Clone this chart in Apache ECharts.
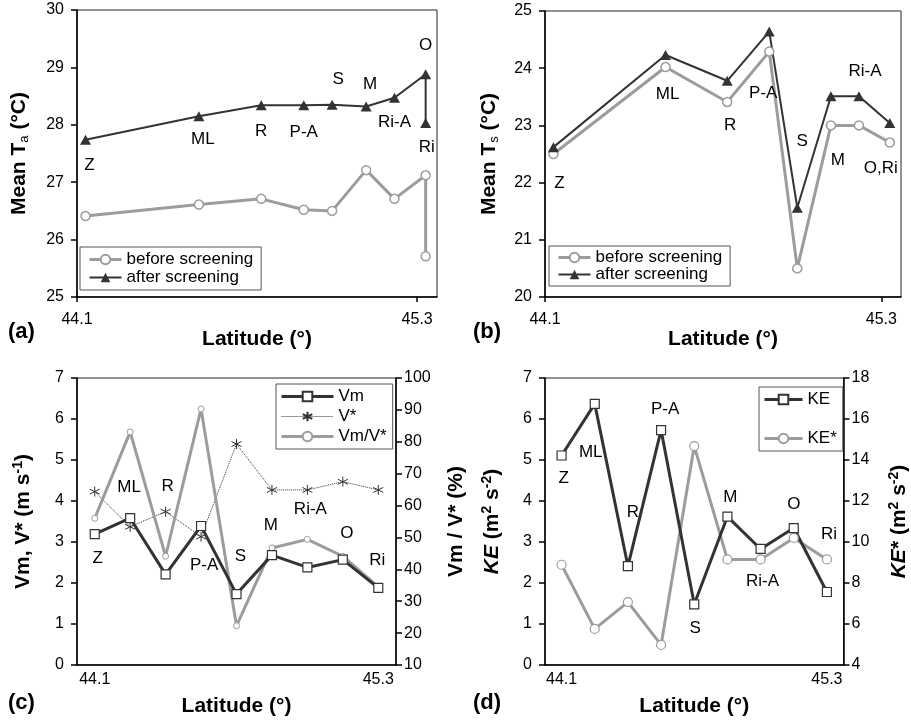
<!DOCTYPE html>
<html>
<head>
<meta charset="utf-8">
<script src="https://cdn.jsdelivr.net/npm/echarts@6/dist/echarts.min.js"></script>
<style>
  html, body { margin: 0; padding: 0; background: #fff; }
  #chart { width: 911px; height: 723px; }
</style>
</head>
<body>
<div id="chart"></div>
<script>
// station order, south to north
var stations = ['Z', 'ML', 'R', 'P-A', 'S', 'M', 'Ri-A', 'O', 'Ri'];
var stationsB = ['Z', 'ML', 'R', 'P-A', 'S', 'M', 'Ri-A', 'O,Ri'];
var latitude = [44.13, 44.53, 44.75, 44.90, 45.00, 45.12, 45.22, 45.33, 45.33];
var latitudeB = [44.13, 44.53, 44.75, 44.90, 45.00, 45.12, 45.22, 45.33];
var latTicks = [44.1, 45.3];

// (a) mean air temperature
var taBefore = [26.41, 26.61, 26.71, 26.52, 26.50, 27.21, 26.71, 27.12, 25.71];
var taAfter = [27.74, 28.15, 28.34, 28.34, 28.35, 28.32, 28.47, 28.88, 28.03];
// (b) mean surface temperature
var tsBefore = [22.50, 24.02, 23.41, 24.29, 20.50, 23.00, 23.00, 22.70];
var tsAfter = [22.62, 24.23, 23.78, 24.64, 21.56, 23.51, 23.51, 23.04];
// (c) wind speeds
var vm = [3.19, 3.58, 2.21, 3.39, 1.73, 2.68, 2.38, 2.57, 1.88];
var vStar = [4.23, 3.37, 3.74, 3.13, 5.39, 4.27, 4.27, 4.47, 4.27];
var vmRatio = [56.0, 83.1, 44.1, 90.3, 22.3, 46.7, 49.4, 44.1, 34.5];
// (d) kinetic energy
var ke = [5.11, 6.37, 2.41, 5.73, 1.48, 3.62, 2.83, 3.34, 1.78];
var keStar = [8.89, 5.76, 7.07, 4.98, 14.68, 9.15, 9.15, 10.20, 9.15];

var FONT = '"Liberation Sans", Arial, Helvetica, sans-serif';
var DARK = '#333';
var GRAY = '#9c9c9c';

// where each station name sits relative to its point (px)
var offA = [[4, 26], [4, 23], [0, 26], [0, 27], [6, -25], [4, -22], [0, 24], [0, -29], [1, 24]];
var offB = [[6, 36], [2, 39], [3, 45], [-6, 62], [5, -66], [7, 64], [6, -25], [-9, 45]];
var offC = [[3, 24], [-1, -31], [2, -88], [3, 39], [4, -38], [-1, -30], [3, -58], [4, -26], [-1, -28]];
var offD = [[2, 23], [-4, 48], [5, -54], [4, -21], [1, 24], [3, -19], [2, 32], [0, -24], [2, -58]];

var richName = {
  b: { fontSize: 21, fontWeight: 'bold', fontFamily: FONT, color: '#000', lineHeight: 24 },
  bi: { fontSize: 21, fontWeight: 'bold', fontStyle: 'italic', fontFamily: FONT, color: '#000', lineHeight: 24 },
  sub: { fontSize: 13, fontFamily: FONT, color: '#000', verticalAlign: 'bottom', lineHeight: 14 },
  sup: { fontSize: 14, fontWeight: 'bold', fontFamily: FONT, color: '#000', verticalAlign: 'top', lineHeight: 14 }
};

function pairs(xs, ys) {
  return ys.map(function(y, i) { return [xs[i], y]; });
}

function labelled(values, names, offs) {
  return values.map(function(v, i) {
    return { name: names[i], value: v, label: { show: true, offset: offs[i] } };
  });
}

var stationLabel = { show: false, position: 'inside', formatter: '{b}', fontSize: 17, color: '#000', fontFamily: FONT };

function latAxis(grid, margin, gap) {
  return {
    type: 'value', gridIndex: grid, min: 44.1, max: 45.37,
    axisLine: { onZero: false, lineStyle: { color: '#000', width: 1.5 } },
    axisTick: { show: true, length: 5, customValues: latTicks, lineStyle: { color: '#000', width: 1.5 } },
    axisLabel: { customValues: latTicks, formatter: function(v) { return v.toFixed(1); }, margin: margin, fontSize: 16, color: '#000', fontFamily: FONT },
    splitLine: { show: false },
    name: 'Latitude (°)', nameLocation: 'middle', nameGap: gap,
    nameTextStyle: { fontSize: 21, fontWeight: 'bold', color: '#000', fontFamily: FONT }
  };
}

function catAxis(grid) {
  var last = stations.length - 1;
  return {
    type: 'category', gridIndex: grid, data: stations, boundaryGap: true,
    axisLine: { onZero: false, lineStyle: { color: '#000', width: 1.5 } },
    axisTick: { show: false },
    axisLabel: { interval: 0, margin: 7, fontSize: 16, color: '#000', fontFamily: FONT,
      formatter: function(v, i) { return i === 0 ? latTicks[0].toFixed(1) : i === last ? latTicks[1].toFixed(1) : ''; } },
    name: 'Latitude (°)', nameLocation: 'middle', nameGap: 31,
    nameTextStyle: { fontSize: 21, fontWeight: 'bold', color: '#000', fontFamily: FONT }
  };
}

function valAxis(grid, min, max, step, name, gap, pos, margin) {
  return {
    type: 'value', gridIndex: grid, min: min, max: max, interval: step, position: pos || 'left',
    axisLine: { show: true, onZero: false, lineStyle: { color: '#000', width: 1.5 } },
    axisTick: { show: true, length: 6, lineStyle: { color: '#000', width: 1.5 } },
    axisLabel: { margin: margin || 13, fontSize: 16, color: '#000', fontFamily: FONT },
    splitLine: { show: false },
    name: name, nameLocation: 'middle', nameGap: gap, nameRotate: 90,
    nameTextStyle: { rich: richName }
  };
}

// legend entries: [name, line width]
function legendBox(left, top, entries, itemWidth, itemGap, pad) {
  return {
    orient: 'vertical', left: left, top: top,
    data: entries.map(function(e) { return { name: e[0], lineStyle: { width: e[1] } }; }),
    itemWidth: itemWidth, itemHeight: 12, itemGap: itemGap, padding: pad,
    borderColor: '#555', borderWidth: 1, backgroundColor: '#fff', borderRadius: 0,
    textStyle: { fontSize: 17, color: '#000', fontFamily: FONT },
    selectedMode: false
  };
}

var asterisk = 'path://M5,0L5,10M0.67,2.5L9.33,7.5M0.67,7.5L9.33,2.5';

var chart = echarts.init(document.getElementById('chart'), null, { renderer: 'canvas' });
chart.setOption({
  animation: false,
  backgroundColor: '#fff',
  textStyle: { fontFamily: FONT },
  grid: [
    { left: 77, top: 10, width: 360, height: 287, show: true, borderColor: '#222', borderWidth: 1 },
    { left: 545, top: 11, width: 356, height: 286, show: true, borderColor: '#222', borderWidth: 1 },
    { left: 77, top: 378, width: 319, height: 287, show: true, borderColor: '#222', borderWidth: 1 },
    { left: 545, top: 378, width: 303, height: 287, show: true, borderColor: '#222', borderWidth: 1 }
  ],
  xAxis: [latAxis(0, 15, 30), latAxis(1, 15, 30), catAxis(2), catAxis(3)],
  yAxis: [
    valAxis(0, 25, 30, 1, '{b|Mean T}{sub|a}{b| (°C)}', 46),
    valAxis(1, 20, 25, 1, '{b|Mean T}{sub|s}{b| (°C)}', 44),
    valAxis(2, 0, 7, 1, '{b|Vm, V* (m s}{sup|-1}{b|)}', 42),
    valAxis(2, 10, 100, 10, '{b|Vm / V* (%)}', 48, 'right', 8),
    valAxis(3, 0, 7, 1, '{bi|KE}{b| (m}{sup|2}{b| s}{sup|-2}{b|)}', 41),
    valAxis(3, 4, 18, 2, '{bi|KE}{b|* (m}{sup|2}{b| s}{sup|-2}{b|)}', 44, 'right', 8)
  ],
  legend: [
    legendBox(80, 247, [['before screening', 3], ['after screening', 2]], 32, 1, [4, 8, 4, 8]),
    legendBox(549, 246, [['before screening', 3], ['after screening', 2]], 32, 0, [3, 8, 3, 8]),
    legendBox(276, 384, [['Vm', 3], ['V*', 1], ['Vm/V*', 3]], 52, 3, [4, 6, 4, 4]),
    legendBox(759, 387, [['KE', 3], ['KE*', 3]], 38, 22, [4, 6, 4, 4])
  ],
  graphic: [
    { type: 'text', left: 8, top: 321, style: { text: '(a)', font: 'bold 22px ' + FONT, fill: '#000' } },
    { type: 'text', left: 473, top: 321, style: { text: '(b)', font: 'bold 22px ' + FONT, fill: '#000' } },
    { type: 'text', left: 8, top: 692, style: { text: '(c)', font: 'bold 22px ' + FONT, fill: '#000' } },
    { type: 'text', left: 473, top: 692, style: { text: '(d)', font: 'bold 22px ' + FONT, fill: '#000' } }
  ],
  series: [
    { name: 'before screening', type: 'line', xAxisIndex: 0, yAxisIndex: 0, data: pairs(latitude, taBefore),
      symbol: 'circle', symbolSize: 9, lineStyle: { color: GRAY, width: 3 },
      itemStyle: { color: '#fff', borderColor: GRAY, borderWidth: 1.5 } },
    { name: 'after screening', type: 'line', xAxisIndex: 0, yAxisIndex: 0,
      data: labelled(pairs(latitude, taAfter), stations, offA), label: stationLabel,
      symbol: 'triangle', symbolSize: [11, 10], lineStyle: { color: DARK, width: 2 }, itemStyle: { color: DARK } },

    { name: 'before screening', type: 'line', xAxisIndex: 1, yAxisIndex: 1, data: pairs(latitudeB, tsBefore),
      symbol: 'circle', symbolSize: 9, lineStyle: { color: GRAY, width: 3 },
      itemStyle: { color: '#fff', borderColor: GRAY, borderWidth: 1.5 } },
    { name: 'after screening', type: 'line', xAxisIndex: 1, yAxisIndex: 1,
      data: labelled(pairs(latitudeB, tsAfter), stationsB, offB), label: stationLabel,
      symbol: 'triangle', symbolSize: [11, 10], lineStyle: { color: DARK, width: 2 }, itemStyle: { color: DARK } },

    { name: 'V*', type: 'line', xAxisIndex: 2, yAxisIndex: 2, data: vStar,
      symbol: asterisk, symbolSize: 10, lineStyle: { color: DARK, width: 1, type: 'dotted' },
      itemStyle: { color: DARK, borderColor: DARK, borderWidth: 1 } },
    { name: 'Vm/V*', type: 'line', xAxisIndex: 2, yAxisIndex: 3, data: vmRatio,
      symbol: 'circle', symbolSize: 6, lineStyle: { color: GRAY, width: 3 },
      itemStyle: { color: '#fff', borderColor: GRAY, borderWidth: 1 } },
    { name: 'Vm', type: 'line', xAxisIndex: 2, yAxisIndex: 2,
      data: labelled(vm, stations, offC), label: stationLabel,
      symbol: 'rect', symbolSize: 9, lineStyle: { color: DARK, width: 3 },
      itemStyle: { color: '#fff', borderColor: DARK, borderWidth: 1.2 } },

    { name: 'KE*', type: 'line', xAxisIndex: 3, yAxisIndex: 5, data: keStar,
      symbol: 'circle', symbolSize: 9, lineStyle: { color: GRAY, width: 3 },
      itemStyle: { color: '#fff', borderColor: GRAY, borderWidth: 1.2 } },
    { name: 'KE', type: 'line', xAxisIndex: 3, yAxisIndex: 4,
      data: labelled(ke, stations, offD), label: stationLabel,
      symbol: 'rect', symbolSize: 9, lineStyle: { color: DARK, width: 3 },
      itemStyle: { color: '#fff', borderColor: DARK, borderWidth: 1.2 } }
  ]
});
window.addEventListener('resize', function() { chart.resize(); });
</script>
</body>
</html>
